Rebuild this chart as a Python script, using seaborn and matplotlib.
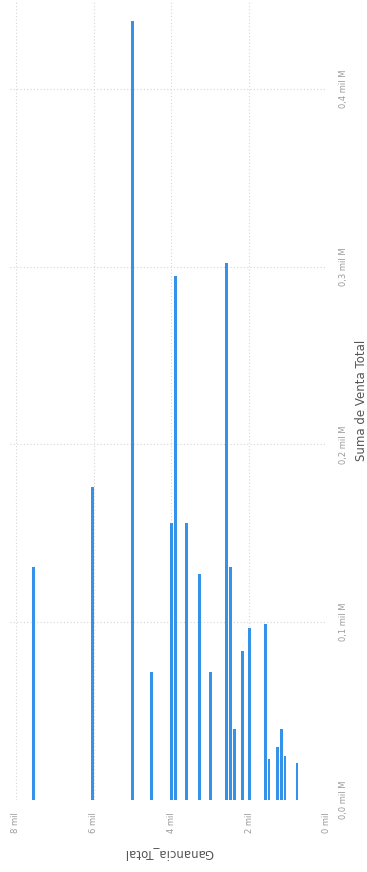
import numpy as np
import pandas as pd
import matplotlib
matplotlib.use("Agg")
import matplotlib.pyplot as plt
from matplotlib.ticker import FuncFormatter, FixedLocator
import seaborn as sns

# Ganancia total (units) and summed sales (units) per group
ganancia_total = [7540, 6030, 5000, 4510, 4000, 3900, 3620, 3280, 3000, 2590,
                  2490, 2380, 2180, 2000, 1590, 1490, 1280, 1180, 1080, 770]
venta_total = [131e6, 176e6, 438e6, 72e6, 156e6, 295e6, 156e6, 127e6, 72e6, 302e6,
               131e6, 40e6, 84e6, 97e6, 99e6, 23e6, 30e6, 40e6, 25e6, 21e6]

ganancia_ticks = [0, 2000, 4000, 6000, 8000]
venta_ticks = [0, 0.1e9, 0.2e9, 0.3e9, 0.4e9]

df = pd.DataFrame({"Ganancia_Total": ganancia_total,
                   "Suma de Venta Total": venta_total})

sns.set_style("white")
plt.rcParams["font.family"] = ["DejaVu Sans"]

fig = plt.figure(figsize=(3.67, 8.72), dpi=100)
ax = fig.add_axes([0.027, 0.0826, 0.864, 0.9174])

bar_w = 75.0  # bar width in data units (about 3 px)
min_gap = np.diff(np.sort(np.unique(df["Ganancia_Total"]))).min()
sns.barplot(data=df, x="Ganancia_Total", y="Suma de Venta Total",
            native_scale=True, orient="x", width=bar_w / min_gap,
            color="#3493e8", saturation=1, errorbar=None, ax=ax,
            linewidth=0)

ax.set_xlim(8150, 0)
ax.set_ylim(0, 0.45e9)

ax.xaxis.set_major_locator(FixedLocator(ganancia_ticks))
ax.yaxis.set_major_locator(FixedLocator(venta_ticks))
ax.xaxis.set_major_formatter(FuncFormatter(lambda v, p: f"{v/1000:.0f} mil"))
ax.yaxis.set_major_formatter(
    FuncFormatter(lambda v, p: f"{v/1e9:.1f} mil M".replace(".", ",")))

ax.yaxis.tick_right()
ax.yaxis.set_label_position("right")
ax.tick_params(axis="x", labelrotation=90, labelsize=6, colors="#9a9a9a",
               length=0, pad=16)
ax.tick_params(axis="y", labelrotation=90, labelsize=6, colors="#9a9a9a",
               length=0, pad=9)
for lbl in ax.get_yticklabels():
    lbl.set_verticalalignment("center")
for lbl in ax.get_xticklabels():
    lbl.set_horizontalalignment("center")
    lbl.set_verticalalignment("center")

ax.grid(True, color="#d6d6d6", linestyle=(0, (1, 2)), linewidth=0.8)
ax.set_axisbelow(True)
for s in ax.spines.values():
    s.set_visible(False)

ax.set_xlabel("Ganancia_Total", rotation=180, fontsize=8.5, color="#555555",
              labelpad=10)
ax.set_ylabel("Suma de Venta Total", rotation=90, fontsize=8.5,
              color="#555555", labelpad=5)

fig.savefig("out.png", dpi=100, facecolor="white")
